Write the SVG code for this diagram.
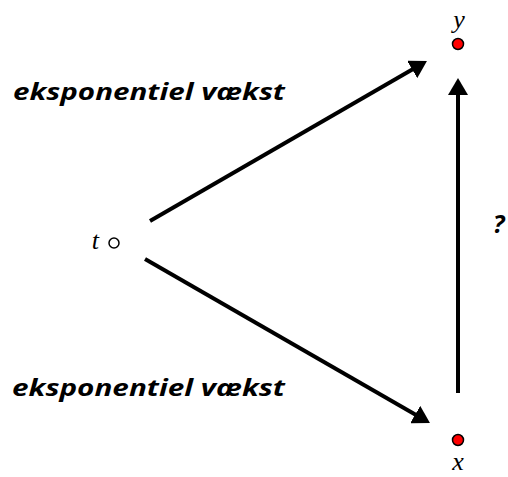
<svg xmlns="http://www.w3.org/2000/svg" width="508" height="477" viewBox="0 0 508 477">
<style>
.lbl{font-family:"Open Sans","DejaVu Sans",sans-serif;font-weight:bold;font-style:italic;font-size:23px;fill:#000}
.var{font-family:"Liberation Serif","Times New Roman",serif;font-style:italic;font-size:26px;fill:#000}
.conn{stroke:#000;stroke-width:4;fill:none;marker-end:url(#ah)}
.dot{fill:#ff0000;stroke:#000;stroke-width:1.5}
</style>
<defs>
<marker id="ah" markerUnits="userSpaceOnUse" markerWidth="17" markerHeight="20" refX="7" refY="10" orient="auto" viewBox="0 0 17 20">
<path d="M0,0 L17,10 L0,20 z" fill="#000"/>
</marker>
</defs>
<rect width="508" height="477" fill="#fff"/>
<g id="connectors">
<line class="conn" x1="150" y1="221" x2="418.3" y2="66"/>
<line class="conn" x1="145" y1="259" x2="421.3" y2="418"/>
<line class="conn" x1="458" y1="393" x2="458" y2="88"/>
</g>
<g id="node-t">
<text class="var" x="99" y="249" text-anchor="end">t</text>
<circle cx="114" cy="243" r="5" fill="none" stroke="#000" stroke-width="1.5"/>
</g>
<g id="node-y">
<text class="var" x="459" y="28" text-anchor="middle">y</text>
<circle class="dot" cx="458" cy="44" r="5.5"/>
</g>
<g id="node-x">
<circle class="dot" cx="458" cy="440" r="5.5"/>
<text class="var" x="458" y="470" text-anchor="middle">x</text>
</g>
<g id="label-top">
<text class="lbl" x="13" y="100" textLength="272" lengthAdjust="spacingAndGlyphs">eksponentiel vækst</text>
</g>
<g id="label-bottom">
<text class="lbl" x="12" y="396" textLength="273" lengthAdjust="spacingAndGlyphs">eksponentiel vækst</text>
</g>
<g id="label-q">
<text class="lbl" x="493" y="233" style="font-size:25px">?</text>
</g>
</svg>
